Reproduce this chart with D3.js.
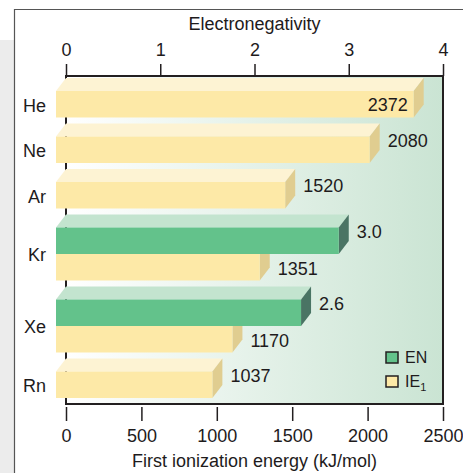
<!DOCTYPE html>
<html>
<head>
<meta charset="utf-8">
<script src="https://cdn.jsdelivr.net/npm/d3@7"></script>
<style>
  body { margin: 0; background: #fff; }
  svg text { font-family: "Liberation Sans", Arial, sans-serif; fill: #1e1b1c; }
</style>
</head>
<body>
<svg id="chart" width="463" height="473"></svg>
<script>
// noble gases: first ionization energy and electronegativity
const elements = ["He", "Ne", "Ar", "Kr", "Xe", "Rn"];
const ie1Values = [2372, 2080, 1520, 1351, 1170, 1037];
const enValues = [null, null, null, 3.0, 2.6, null];
const enTicks = [0, 1, 2, 3, 4];
const ieTicks = [0, 500, 1000, 1500, 2000, 2500];

const W = 463, H = 473;
const plot = { left: 66, right: 443, top: 76, bottom: 404 };
const depth = { dx: 10, dy: 13 };
const barH = 26.5, gap = 6;

const colors = {
  ie: { front: "#fde9a7", top: "#fdf3d3", side: "#e0cd90" },
  en: { front: "#63c28b", top: "#c3e4cf", side: "#4a7464" }
};

const svg = d3.select("#chart");

// outer frame + grey margin
svg.append("rect").attr("x", 0).attr("y", 40).attr("width", 14).attr("height", H - 40)
  .attr("fill", "#ececec");
svg.append("path")
  .attr("d", `M14.5,${H} V9.5 H${W}`)
  .attr("fill", "none").attr("stroke", "#555").attr("stroke-width", 1.2);

const defs = svg.append("defs");
const grad = defs.append("linearGradient").attr("id", "bg").attr("x1", 0).attr("x2", 1).attr("y1", 0).attr("y2", 0);
grad.append("stop").attr("offset", "0%").attr("stop-color", "#ffffff");
grad.append("stop").attr("offset", "100%").attr("stop-color", "#cae4d3");

svg.append("rect")
  .attr("x", plot.left).attr("y", plot.top)
  .attr("width", plot.right - plot.left).attr("height", plot.bottom - plot.top)
  .attr("fill", "url(#bg)");

const xEN = d3.scaleLinear().domain([0, 4]).range([plot.left, plot.right]);
const xIE = d3.scaleLinear().domain([0, 2500]).range([plot.left, plot.right]);

// plot frame: left axis, top, right, bottom
svg.append("rect")
  .attr("x", plot.left).attr("y", plot.top)
  .attr("width", plot.right - plot.left).attr("height", plot.bottom - plot.top)
  .attr("fill", "none").attr("stroke", "#231f20").attr("stroke-width", 2);

// top axis (electronegativity)
const topAxis = svg.append("g").attr("transform", `translate(0,${plot.top})`)
  .call(d3.axisTop(xEN).tickValues(enTicks).tickSize(12).tickPadding(8).tickFormat(d3.format("d")));
topAxis.select(".domain").remove();
topAxis.selectAll("line").attr("stroke", "#231f20").attr("stroke-width", 1.5);
topAxis.selectAll("text").attr("font-size", 18).attr("font-family", null);

svg.append("text").attr("x", (plot.left + plot.right) / 2).attr("y", 24).attr("dy", "0.35em")
  .attr("text-anchor", "middle").attr("font-size", 18).text("Electronegativity");

// bottom axis (ionization energy)
const botAxis = svg.append("g").attr("transform", `translate(0,${plot.bottom + 3})`)
  .call(d3.axisBottom(xIE).tickValues(ieTicks).tickSize(14).tickPadding(8).tickFormat(d3.format("d")));
botAxis.select(".domain").remove();
botAxis.selectAll("line").attr("stroke", "#231f20").attr("stroke-width", 1.5);
botAxis.selectAll("text").attr("font-size", 18).attr("font-family", null);

svg.append("text").attr("x", (plot.left + plot.right) / 2).attr("y", 461).attr("dy", "0.35em")
  .attr("text-anchor", "middle").attr("font-size", 18).text("First ionization energy (kJ/mol)");

// bar layout: each element gets an EN bar (if any) and an IE bar
const bars = [];
const rows = [];
let yCur = plot.top + 15 - depth.dy;
elements.forEach((el, i) => {
  yCur += depth.dy;
  const start = yCur;
  if (enValues[i] != null) {
    bars.push({ el, kind: "en", value: enValues[i], x: xEN(enValues[i]), y: yCur, first: true });
    yCur += barH;
  }
  bars.push({ el, kind: "ie", value: ie1Values[i], x: xIE(ie1Values[i]), y: yCur, first: enValues[i] == null });
  yCur += barH;
  rows.push({ el, mid: (start + yCur) / 2 });
  yCur += gap;
});

const barG = svg.append("g");
// draw bottom bars first so upper bars overlap them
bars.slice().reverse().forEach(b => {
  const c = colors[b.kind];
  const x0 = plot.left - depth.dx;
  const xf = b.x - depth.dx;
  const g = barG.append("g");
  g.append("path")
    .attr("d", `M${x0},${b.y} L${plot.left},${b.y - depth.dy} L${b.x},${b.y - depth.dy} L${xf},${b.y} Z`)
    .attr("fill", c.top);
  g.append("path")
    .attr("d", `M${xf},${b.y} L${b.x},${b.y - depth.dy} L${b.x},${b.y + barH - depth.dy} L${xf},${b.y + barH} Z`)
    .attr("fill", c.side);
  g.append("rect")
    .attr("x", x0).attr("y", b.y).attr("width", xf - x0).attr("height", barH)
    .attr("fill", c.front);
});

// value labels
bars.forEach(b => {
  const label = b.kind === "en" ? d3.format(".1f")(b.value) : String(b.value);
  const inside = b.x > plot.right - 40;
  svg.append("text")
    .attr("x", inside ? b.x - depth.dx - 6 : b.x + 8)
    .attr("y", inside ? b.y + barH / 2 : (b.first ? b.y + 4 : b.y + 15))
    .attr("dy", "0.35em")
    .attr("text-anchor", inside ? "end" : "start")
    .attr("font-size", 18)
    .text(label);
});

// element labels
svg.selectAll("text.el").data(rows).join("text")
  .attr("class", "el")
  .attr("x", 46).attr("y", d => d.mid + 1).attr("dy", "0.35em")
  .attr("text-anchor", "end").attr("font-size", 18)
  .text(d => d.el);

// legend
const legend = svg.append("g").attr("transform", "translate(386,352)");
const legendItems = [
  { key: "en", text: "EN", sub: null },
  { key: "ie", text: "IE", sub: "1" }
];
legendItems.forEach((d, i) => {
  const g = legend.append("g").attr("transform", `translate(0,${i * 24})`);
  g.append("rect").attr("width", 12).attr("height", 11)
    .attr("fill", colors[d.key].front).attr("stroke", "#231f20").attr("stroke-width", 1.5);
  const t = g.append("text").attr("x", 19).attr("y", 5.5).attr("dy", "0.35em").attr("font-size", 16).text(d.text);
  if (d.sub) t.append("tspan").attr("font-size", 11).attr("dy", 4).text(d.sub);
});
</script>
</body>
</html>
